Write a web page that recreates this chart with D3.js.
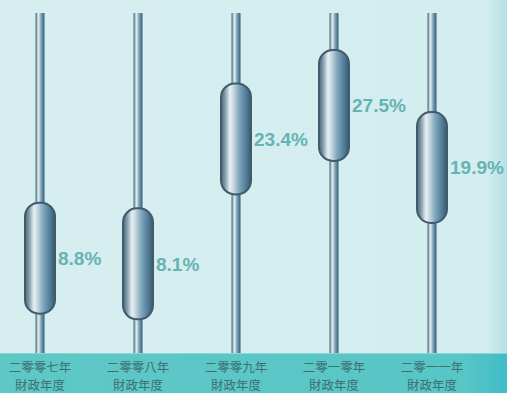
<!DOCTYPE html>
<html><head><meta charset="utf-8">
<script src="https://cdn.jsdelivr.net/npm/d3@7"></script>
<style>html,body{margin:0;padding:0;background:#d6eef0;}svg{display:block;}</style>
</head><body>
<svg id="c" width="507" height="393"></svg>
<script>
const years = ["二零零七年","二零零八年","二零零九年","二零一零年","二零一一年"];
const subLabel = ["財政年度","財政年度","財政年度","財政年度","財政年度"];
const values = [8.8, 8.1, 23.4, 27.5, 19.9];
const valueLabels = ["8.8%","8.1%","23.4%","27.5%","19.9%"];

const W = 507, H = 393, bandTop = 353;
const svg = d3.select("#c");
const defs = svg.append("defs");

const bg = defs.append("linearGradient").attr("id","bg").attr("x1","0").attr("x2","1").attr("y1","0").attr("y2","0");
bg.append("stop").attr("offset","0").attr("stop-color","#d6eef0");
bg.append("stop").attr("offset","0.96").attr("stop-color","#d4edef");
bg.append("stop").attr("offset","1").attr("stop-color","#b4e0e5");

const band = defs.append("linearGradient").attr("id","band").attr("x1","0").attr("x2","1").attr("y1","0").attr("y2","0");
band.append("stop").attr("offset","0").attr("stop-color","#5ec8c6");
band.append("stop").attr("offset","0.92").attr("stop-color","#58c5c6");
band.append("stop").attr("offset","1").attr("stop-color","#3fbcc8");

function metal(id){
  const g = defs.append("linearGradient").attr("id",id).attr("x1","0").attr("x2","1").attr("y1","0").attr("y2","0");
  [[0,"#4d6a7a"],[0.12,"#7a94a4"],[0.3,"#e8f0f4"],[0.42,"#c6d6de"],[0.6,"#80a8be"],[0.85,"#4f7a94"],[1,"#3a5a6e"]]
    .forEach(([o,c])=>g.append("stop").attr("offset",o).attr("stop-color",c));
}
metal("rod"); metal("cap");

svg.append("rect").attr("width",W).attr("height",H).attr("fill","url(#bg)");

const x = d3.scalePoint().domain(years).range([40,432]);
const y = d3.scaleLinear().domain([0,30]).range([330,85]);

const rodW = 9, capW = 30, capH = 111;

const g = svg.selectAll("g.bar").data(years).join("g").attr("class","bar");
g.append("rect").attr("x",d=>x(d)-rodW/2).attr("y",13).attr("width",rodW).attr("height",bandTop-13)
  .attr("fill","url(#rod)");
g.append("rect").attr("x",d=>x(d)-capW/2).attr("y",(d,i)=>y(values[i])-capH/2)
  .attr("width",capW).attr("height",capH).attr("rx",14).attr("ry",14)
  .attr("fill","url(#cap)").attr("stroke","#3f5b6c").attr("stroke-width",2);
g.append("text").attr("x",d=>x(d)+18).attr("y",(d,i)=>y(values[i]))
  .attr("dy","0.35em").attr("font-family","Liberation Sans, Arial, sans-serif")
  .attr("font-weight","bold").attr("font-size",19).attr("fill","#66b3b4")
  .text((d,i)=>valueLabels[i]);

svg.append("rect").attr("x",0).attr("y",bandTop).attr("width",W).attr("height",H-bandTop).attr("fill","url(#band)");
svg.append("line").attr("x1",0).attr("x2",W).attr("y1",bandTop+0.5).attr("y2",bandTop+0.5).attr("stroke","#8ad6d6").attr("stroke-width",1);

const t = svg.selectAll("g.lab").data(years).join("g").attr("class","lab");
t.append("text").attr("x",d=>x(d)).attr("y",372).attr("text-anchor","middle")
  .attr("font-family","Noto Sans CJK TC, Noto Sans CJK SC, sans-serif").attr("font-size",12.5).attr("fill","#3d7072")
  .text(d=>d);
t.append("text").attr("x",d=>x(d)).attr("y",390).attr("text-anchor","middle")
  .attr("font-family","Noto Sans CJK TC, Noto Sans CJK SC, sans-serif").attr("font-size",12.5).attr("fill","#3d7072")
  .text((d,i)=>subLabel[i]);
</script>
</body></html>
